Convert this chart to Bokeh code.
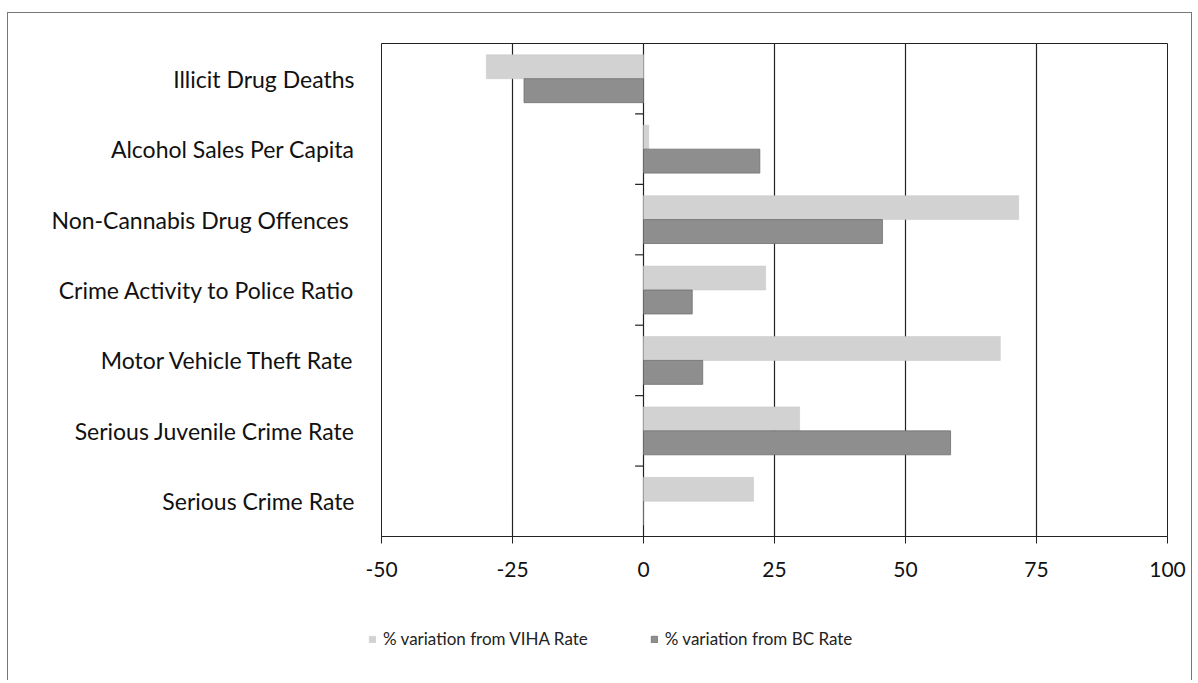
from bokeh.plotting import figure
from bokeh.layouts import column
from bokeh.models import (Range1d, LinearAxis, FixedTicker, Legend, LegendItem,
                          ColumnDataSource)
from bokeh.embed import file_html
from bokeh.resources import INLINE

# ---- data (top to bottom) ----
categories = ["Illicit Drug Deaths", "Alcohol Sales Per Capita", "Non-Cannabis Drug Offences ",
              "Crime Activity to Police Ratio", "Motor Vehicle Theft Rate",
              "Serious Juvenile Crime Rate", "Serious Crime Rate"]
viha_values = [-30.0, 1.0, 71.6, 23.3, 68.1, 29.8, 21.0]
bc_values = [-22.8, 22.2, 45.6, 9.3, 11.3, 58.6, 0.0]
series_names = ["% variation from VIHA Rate", "% variation from BC Rate"]
x_ticks = [-50, -25, 0, 25, 50, 75, 100]
x_tick_labels = ["-50", "-25", "0", "25", "50", "75", "100"]

n = len(categories)
centers = [n - i - 0.5 for i in range(n)]
src_v = ColumnDataSource(dict(y=[c + 0.17 for c in centers], right=viha_values))
src_b = ColumnDataSource(dict(y=[c - 0.17 for c in centers], right=bc_values))

FONT = "Lato"
VIHA_FILL, VIHA_LINE = "#d2d2d2", "#c6c6c6"
BC_FILL, BC_LINE = "#8e8e8e", "#6e6e6e"

p = figure(width=1183, height=597, output_backend="svg", toolbar_location=None,
           x_range=Range1d(-50, 100), y_range=Range1d(0, n),
           min_border_left=373, min_border_right=24, min_border_top=30,
           min_border_bottom=74, y_axis_location=None, x_axis_location=None)
p.outline_line_color = "#222222"
p.outline_line_width = 1
p.background_fill_color = "white"
p.border_fill_color = "white"

# x axis
xax = LinearAxis(ticker=FixedTicker(ticks=x_ticks),
                 major_label_overrides={t: s for t, s in zip(x_ticks, x_tick_labels)})
xax.axis_line_color = "#222222"
xax.major_tick_line_color = "#222222"
xax.major_tick_out = 7
xax.major_tick_in = 0
xax.minor_tick_line_color = None
xax.major_label_standoff = 18
xax.major_label_text_font = FONT
xax.major_label_text_font_size = "21px"
xax.major_label_text_color = "#111111"
p.add_layout(xax, "below")

# category label axis
yax = LinearAxis(ticker=FixedTicker(ticks=centers),
                 major_label_overrides={c: name for c, name in zip(centers, categories)})
yax.axis_line_color = None
yax.major_tick_line_color = None
yax.minor_tick_line_color = None
yax.major_label_standoff = 21
yax.major_label_text_font = FONT
yax.major_label_text_font_size = "23px"
yax.major_label_text_color = "#111111"
p.add_layout(yax, "left")

p.xgrid.ticker = FixedTicker(ticks=x_ticks)
p.xgrid.grid_line_color = "#222222"
p.xgrid.grid_line_width = 1.2
p.ygrid.grid_line_color = None

p.hbar(y="y", right="right", left=0, height=0.34, source=src_v,
       fill_color=VIHA_FILL, line_color=VIHA_LINE, line_width=0.5)
p.hbar(y="y", right="right", left=0, height=0.34, source=src_b,
       fill_color=BC_FILL, line_color=BC_LINE, line_width=0.8)

# category boundary tick marks on the zero axis
bounds = list(range(1, n))
p.segment(x0=[-1.6] * len(bounds), x1=[0] * len(bounds), y0=bounds, y1=bounds,
          line_color="#222222", line_width=1.2)

# legend strip (its bars lie outside its visible range; only the legend shows)
lf = figure(width=1183, height=70, output_backend="svg", toolbar_location=None,
            x_range=Range1d(-50, 100), y_range=Range1d(100, 101),
            min_border=0, x_axis_location=None, y_axis_location=None)
aligned = True
if "frame_align" in lf.properties():
    lf.frame_align = False
    aligned = False
lf.outline_line_color = None
lf.background_fill_color = "white"
lf.border_fill_color = "white"
lf.xgrid.grid_line_color = None
lf.ygrid.grid_line_color = None
lv = lf.hbar(y="y", right="right", left=0, height=0.34, source=src_v,
             fill_color=VIHA_FILL, line_color=VIHA_LINE, line_width=0.5)
lb = lf.hbar(y="y", right="right", left=0, height=0.34, source=src_b,
             fill_color=BC_FILL, line_color=BC_LINE, line_width=0.8)
legend = Legend(items=[LegendItem(label=series_names[0], renderers=[lv]),
                       LegendItem(label=series_names[1], renderers=[lb])],
                orientation="horizontal", location=((0 if aligned else 360), 31),
                label_text_font=FONT, label_text_font_size="17px",
                label_text_color="#222222",
                glyph_width=8, glyph_height=8, label_standoff=7, spacing=62,
                border_line_color=None, background_fill_alpha=0, margin=0, padding=4)
lf.add_layout(legend, "center")

layout = column(p, lf, spacing=0,
                styles={"margin-left": "7px", "margin-top": "12px",
                        "border-left": "1px solid #777777", "border-top": "1px solid #777777",
                        "border-right": "1px solid #777777"})

open("out.html", "w").write(file_html(layout, INLINE))
